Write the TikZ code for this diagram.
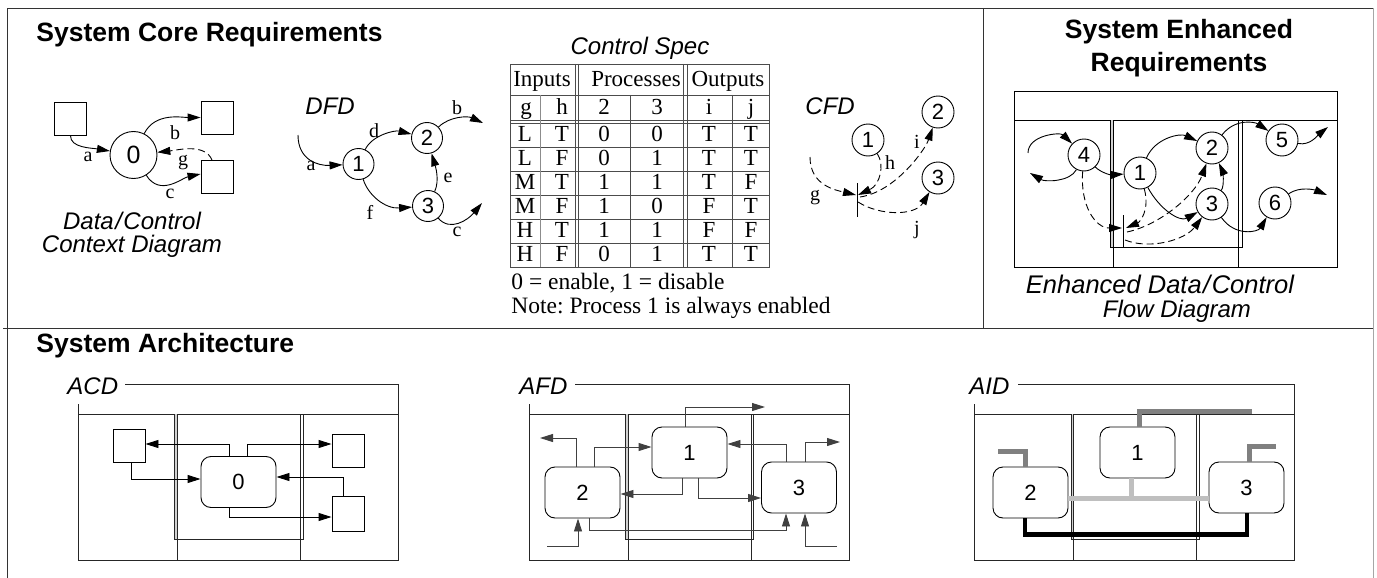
\documentclass[tikz,border=0pt]{standalone}
\usepackage{fontspec}
\setmainfont{Liberation Serif}
\setsansfont{Liberation Sans}
\usetikzlibrary{arrows.meta}
\frenchspacing
\newcommand\archframe[7]{%
  \draw (#1,384) -- (#3,384) -- (#3,560) -- (#2,560) -- (#2,404);
  \draw (#2,414) -- (#3,414);
  \fill[black!18] (#4,414) rectangle (#5,539);
  \draw (#4,414) -- (#4,539) -- (#7,539) -- (#7,414);
  \draw (#5,414) -- (#5,560);
  \draw (#6,414) -- (#6,560);
}
\newcommand\slsh{\kern1.5pt/\kern1.5pt}
\begin{document}
\begin{tikzpicture}[x=1pt,y=-1pt,line width=0.9pt,
  title/.style={font=\sffamily\bfseries\fontsize{26.5}{33}\selectfont, anchor=base west, inner sep=0pt},
  capt/.style={font=\sffamily\itshape\fontsize{24}{24}\selectfont, inner sep=0pt, anchor=base},
  lbl/.style={font=\fontsize{20}{20}\selectfont, inner sep=0pt},
  cell/.style={font=\fontsize{23}{23}\selectfont, inner sep=0pt, anchor=base},
  bub/.style={circle, draw, minimum size=31pt, inner sep=0pt, font=\sffamily\fontsize{22}{22}\selectfont},
  box/.style={draw, minimum width=32pt, minimum height=33pt, inner sep=0pt},
  rbox/.style={draw, rounded corners=10pt, minimum width=75pt, minimum height=51pt, inner sep=0pt, font=\sffamily\fontsize{22}{22}\selectfont},
  arr/.style={-{Triangle[length=13pt,width=8pt]}},
  dsh/.style={dash pattern=on 7pt off 4pt},
  thk/.style={line width=5pt}
]
\useasboundingbox (0,0) rectangle (1377,578);
% ---------------- outer frame
\draw[black!80] (7,578) -- (7,8) -- (1373,8);
\draw[black!35] (1373,8) -- (1373,578);
\draw[black!80] (3,328) -- (1373,328);
\draw[black!80] (983,8) -- (983,328);
% ---------------- titles
\node[title] (tCore) at (36,42) {System Core Requirements};
\node[title, anchor=base] (tEnh1) at (1179,39) {System Enhanced};
\node[title, anchor=base] (tEnh2) at (1179,72) {Requirements};
\node[title] (tArch) at (36,352) {System Architecture};

% ---------------- Context diagram
\node[box] (cxA) at (70.5,118.5) {};
\node[bub, minimum size=47pt, font=\sffamily\fontsize{25}{25}\selectfont] (cx0) at (133.5,155) {0};
\node[box] (cxB) at (217,117.5) {};
\node[box] (cxC) at (217,177) {};
\draw[arr] (cxA.south) .. controls (70,148) and (92,148) .. (cx0);
\draw[arr] (cx0) .. controls (155,112) and (182,117.5) .. (cxB.west);
\draw[arr,dsh] ([xshift=-5pt]cxC.north) .. controls (205,143) and (178,150) .. (cx0);
\draw[arr] (cx0) .. controls (160,197) and (182,178) .. ([yshift=3pt]cxC.west);
\node[lbl] (lxa) at (88,157) {a};
\node[lbl] (lxb) at (175,133) {b};
\node[lbl] (lxg) at (183,163) {g};
\node[lbl] (lxc) at (170,194) {c};
\node[capt] (cxT1) at (132,229) {Data\slsh Control};
\node[capt] (cxT2) at (132,252) {Context Diagram};

% ---------------- DFD
\node[capt, anchor=base west] (dfdT) at (305,114) {DFD};
\node[bub] (d1) at (358.5,164) {1};
\node[bub] (d2) at (427,138) {2};
\node[bub] (d3) at (428,206) {3};
\coordinate (dA) at (298,135);
\coordinate (dB) at (483,123);
\coordinate (dC) at (482,203);
\draw[arr] (dA) .. controls (298,160) and (318,166) .. (d1);
\draw[arr] (d1) .. controls (372,135) and (395,130) .. (d2);
\draw[arr] (d2) .. controls (450,116) and (468,116) .. (dB);
\draw[arr] (d3) .. controls (440,180) and (435,165) .. (d2);
\draw[arr] (d1) .. controls (368,195) and (385,209) .. (d3);
\draw[arr] (d3) .. controls (450,232) and (468,220) .. (dC);
\node[lbl] (lda) at (311,166) {a};
\node[lbl] (ldd) at (374,131) {d};
\node[lbl] (ldb) at (457,108) {b};
\node[lbl] (lde) at (448,178) {e};
\node[lbl] (ldf) at (370,212) {f};
\node[lbl] (ldc) at (457,232) {c};

% ---------------- Control spec table
\node[capt] (csT) at (640,55) {Control Spec};
\begin{scope}[draw=black!70, line width=0.8pt]
\draw (510,64) rectangle (769,267);
\draw (510,95) -- (769,95);
\draw (510,120) -- (769,120);
\draw (510,123.5) -- (769,123.5);
\foreach \yy in {147.4,171.3,195.2,219.1,243} \draw (510,\yy) -- (769,\yy);
\draw (575,64) -- (575,267); \draw (578,64) -- (578,267);
\draw (683,64) -- (683,267); \draw (687,64) -- (687,267);
\draw[black!45] (540,95) -- (540,267);
\draw (630,95) -- (630,267);
\draw (732,95) -- (732,267);
\end{scope}
\node[cell] (hIn) at (542,86) {Inputs};
\node[cell] (hPr) at (636,86) {Processes};
\node[cell] (hOut) at (728,86) {Outputs};
\node[cell] (hg) at (526,114) {g};
\node[cell] (hh) at (562,114) {h};
\node[cell] (h2) at (604,114) {2};
\node[cell] (h3) at (657,114) {3};
\node[cell] (hi) at (709,114) {i};
\node[cell] (hj) at (751,114) {j};
\foreach \ca/\cb/\cc/\cd/\ce/\cf [count=\k] in {L/T/0/0/T/T, L/F/0/1/T/T, M/T/1/1/T/F, M/F/1/0/F/T, H/T/1/1/F/F, H/F/0/1/T/T}{
  \node[cell] (ra\k) at (525,{118+23.9*\k}) {\ca};
  \node[cell] (rb\k) at (562,{118+23.9*\k}) {\cb};
  \node[cell] (rc\k) at (604,{118+23.9*\k}) {\cc};
  \node[cell] (rd\k) at (657,{118+23.9*\k}) {\cd};
  \node[cell] (re\k) at (709,{118+23.9*\k}) {\ce};
  \node[cell] (rf\k) at (751,{118+23.9*\k}) {\cf};
}
\node[cell, anchor=base west, font=\fontsize{23.5}{23.5}\selectfont] (ntA) at (511,289) {0 = enable, 1 = disable};
\node[cell, anchor=base west, font=\fontsize{23.5}{23.5}\selectfont] (ntB) at (511,313) {Note: Process 1 is always enabled};

% ---------------- CFD
\node[capt, anchor=base west] (cfdT) at (805,114) {CFD};
\node[bub, minimum size=32pt] (f1) at (868,140) {1};
\node[bub, minimum size=32pt] (f2) at (938,112) {2};
\node[bub, minimum size=32pt] (f3) at (938,178) {3};
\coordinate (fbT) at (857,183);
\coordinate (fbB) at (857,217);
\draw (fbT) -- (fbB);
\coordinate (fG) at (810,157);
\coordinate (fGe) at (856,195);
\coordinate (fHe) at (858,195);
\coordinate (fIs) at (860,197);
\coordinate (fJs) at (858,202);
\draw[arr,dsh] (fG) .. controls (810,185) and (835,190) .. (fGe);
\draw[arr,dsh] (f1) .. controls (885,165) and (880,185) .. (fHe);
\draw[arr,dsh] (fIs) .. controls (895,192) and (925,150) .. (f2);
\draw[arr,dsh] (fJs) .. controls (880,216) and (915,216) .. (f3);
\node[lbl] (lfg) at (815,198) {g};
\node[lbl] (lfh) at (890,163) {h};
\node[lbl] (lfi) at (917,142) {i};
\node[lbl] (lfj) at (917,230) {j};

% ---------------- Enhanced
\draw (1014,91) rectangle (1337,267);
\draw (1014,120) -- (1337,120);
\fill[black!18] (1110,120) rectangle (1113,247);
\draw (1110,120) -- (1110,247) -- (1242,247) -- (1242,120);
\draw (1113,120) -- (1113,267);
\draw (1238,120) -- (1238,267);
\node[bub, minimum size=32pt] (e4) at (1084,155) {4};
\node[bub, minimum size=32pt] (e1) at (1140,173) {1};
\node[bub, minimum size=32pt] (e2) at (1212,148) {2};
\node[bub, minimum size=32pt] (e3) at (1212,204) {3};
\node[bub, minimum size=32pt] (e5) at (1282,140) {5};
\node[bub, minimum size=32pt] (e6) at (1275,203) {6};
\coordinate (ebT) at (1123,215);
\coordinate (ebB) at (1123,248);
\draw (ebT) -- (ebB);
\coordinate (eA1) at (1028,153);
\coordinate (eA2) at (1030,173);
\coordinate (eA12) at (1328,127);
\coordinate (eA14) at (1327,195);
\coordinate (eB4) at (1122,228);
\coordinate (eB1) at (1126,228);
\coordinate (eB8) at (1127,232);
\coordinate (eB9) at (1125,240);
\draw[arr] (eA1) .. controls (1028,135) and (1060,132) .. (e4);
\draw[arr] (e4) .. controls (1070,182) and (1045,182) .. (eA2);
\draw[arr] (e4) .. controls (1100,172) and (1110,175) .. (e1);
\draw[arr,dsh] (e4) .. controls (1080,205) and (1095,228) .. (eB4);
\draw[arr,dsh] (e1) .. controls (1150,210) and (1140,222) .. (eB1);
\draw[arr] (e1) .. controls (1155,138) and (1180,133) .. (e2);
\draw[arr] (e1) .. controls (1160,210) and (1180,222) .. (e3);
\draw[arr,dsh] (eB8) .. controls (1160,225) and (1195,195) .. (e2);
\draw[arr,dsh] (eB9) .. controls (1150,250) and (1185,240) .. (e3);
\draw[arr] (e3) .. controls (1225,185) and (1222,170) .. (e2);
\draw[arr] (e2) .. controls (1235,118) and (1255,122) .. (e5);
\draw[arr] (e5) .. controls (1310,146) and (1318,135) .. (eA12);
\draw[arr] (e3) .. controls (1235,237) and (1258,232) .. (e6);
\draw[arr] (e6) .. controls (1300,186) and (1315,190) .. (eA14);
\node[capt, font=\sffamily\itshape\fontsize{25.5}{25.5}\selectfont] (enT1) at (1160,293) {Enhanced Data\slsh Control};
\node[capt] (enT2) at (1177,317) {Flow Diagram};

% ---------------- Architecture frames
\begin{scope}[draw=black!85]
\archframe{125}{78}{398}{174}{177}{300}{303}
\archframe{575}{529}{849}{625}{628}{751}{753}
\archframe{1018}{974}{1294}{1071}{1073}{1196}{1199}
\end{scope}
\node[capt, anchor=base west] (acdT) at (67,394) {ACD};
\node[capt, anchor=base west] (afdT) at (519,394) {AFD};
\node[capt, anchor=base west] (aidT) at (969,394) {AID};

% ---------------- ACD
\node[box] (ac1) at (129,445.5) {};
\node[box] (ac2) at (348,451) {};
\node[box, minimum height=35pt] (ac3) at (348,513.5) {};
\node[rbox] (ar0) at (238.5,482) {0};
\draw[arr] ([xshift=-9.5pt]ar0.north) |- ([yshift=1.5pt]ac1.east);
\draw[arr] ([xshift=2pt]ac1.south) |- ([yshift=3pt]ar0.west);
\draw[arr] ([xshift=8.5pt]ar0.north) |- ([yshift=7pt]ac2.west);
\draw[arr] ([xshift=-5pt]ac3.north) |- ([yshift=5pt]ar0.east);
\draw[arr] ([xshift=-9.5pt]ar0.south) |- ([yshift=-3.5pt]ac3.west);

% ---------------- AFD
\node[rbox] (af1) at (689.5,452.5) {1};
\node[rbox] (af2) at (582.5,492.5) {2};
\node[rbox] (af3) at (799,487.5) {3};
\coordinate (fo1) at (765,407);
\coordinate (fo2) at (540,438);
\coordinate (fo5) at (840,442);
\coordinate (fi9) at (547,546);
\coordinate (fi10) at (837,546);
\begin{scope}[draw=black!75]
\draw[arr] ([xshift=-4.5pt]af1.north) |- (fo1);
\draw[arr] ([xshift=-6.5pt]af2.north) |- (fo2);
\draw[arr] ([xshift=11.5pt]af2.north) |- ([yshift=5.5pt]af1.west);
\draw[arr] ([xshift=-13pt]af3.north) |- ([yshift=8.5pt]af1.east);
\draw[arr] ([xshift=6pt]af3.north) |- (fo5);
\draw[arr] ([xshift=-7.5pt]af1.south) |- ([yshift=-1.5pt]af2.east);
\draw[arr] ([xshift=8.5pt]af1.south) |- ([yshift=-10.5pt]af3.west);
\draw[arr] ([xshift=6.5pt]af2.south) -- ++(0,12) -| ([xshift=-13pt]af3.south);
\draw[arr] (fi9) -| ([xshift=-4.5pt]af2.south);
\draw[arr] (fi10) -| ([xshift=6pt]af3.south);
\end{scope}

% ---------------- AID
\node[rbox] (ai1) at (1137.5,452.5) {1};
\node[rbox] (ai2) at (1030.5,492.5) {2};
\node[rbox] (ai3) at (1246.5,487.5) {3};
\coordinate (io1) at (1252,411);
\coordinate (io2) at (998,451);
\coordinate (io3) at (1276,446);
\draw[thk, black!50] ([xshift=1.5pt]ai1.north) |- (io1);
\draw[thk, black!50] ([xshift=-5.5pt]ai2.north) |- (io2);
\draw[thk, black!50] ([xshift=2.5pt]ai3.north) |- (io3);
\draw[thk, black!25] ([yshift=-5.5pt]ai2.east) -- ([yshift=-10.5pt]ai3.west);
\draw[thk, black!25] ([xshift=-6.5pt]ai1.south) -- ++(0,20);
\draw[line width=4.5pt, black] ([xshift=-5.5pt]ai2.south) -- ++(0,16) -| ([xshift=0.5pt]ai3.south);
\end{tikzpicture}
\end{document}
